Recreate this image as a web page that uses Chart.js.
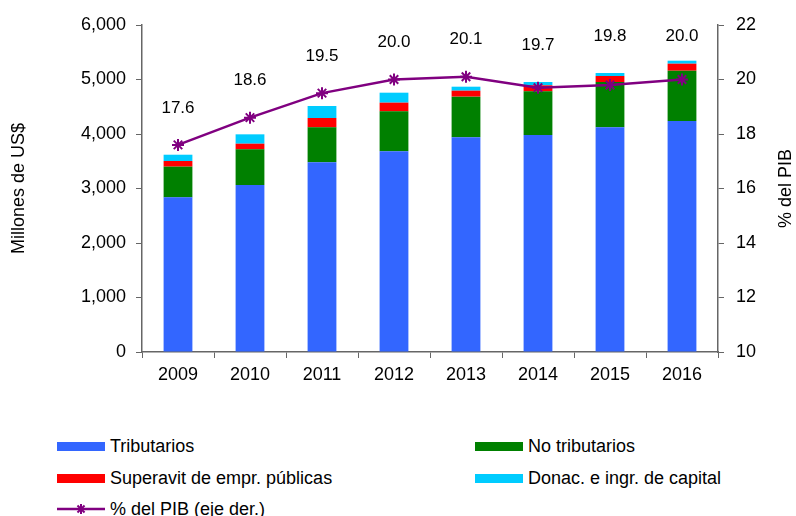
<!DOCTYPE html>
<html>
<head>
<meta charset="utf-8">
<script src="https://cdn.jsdelivr.net/npm/chart.js@4.4.0/dist/chart.umd.min.js"></script>
<style>
  body { margin: 0; background: #fff; }
  #wrap { position: relative; width: 796px; height: 516px; }
  #chartBox { position: absolute; left: 0; top: 0; width: 796px; height: 410px; }
  #legend { position: absolute; left: 57px; top: 0; width: 700px;
    font-family: "Liberation Sans", Arial, sans-serif; font-size: 18px; color: #000; }
  .item { position: absolute; display: flex; align-items: center; white-space: nowrap; height: 20px; }
  .sw { width: 48px; height: 9px; margin-right: 5px; }
</style>
</head>
<body>
<div id="wrap">
  <div id="chartBox"><canvas id="chartIngresos"></canvas></div>
  <div id="legend"></div>
</div>
<script>
const years = ['2009', '2010', '2011', '2012', '2013', '2014', '2015', '2016'];
const tributarios = [2838, 3064, 3480, 3682, 3939, 3982, 4122, 4239];
const noTributarios = [563, 655, 642, 734, 746, 801, 832, 922];
const superavit = [104, 103, 172, 159, 110, 110, 110, 129];
const donaciones = [115, 172, 220, 183, 73, 61, 55, 55];
const pibPct = [17.6, 18.6, 19.5, 20.0, 20.1, 19.7, 19.8, 20.0];

const FONT = '"Liberation Sans", Arial, sans-serif';
const AXIS = '#666';

// etiquetas de % del PIB sobre cada punto
const pibLabels = {
  id: 'pibLabels',
  afterDatasetsDraw(chart) {
    const ctx = chart.ctx;
    const line = chart.getDatasetMeta(4).data;
    const top = chart.getDatasetMeta(3).data;
    ctx.save();
    ctx.font = '17px ' + FONT;
    ctx.fillStyle = '#000';
    ctx.textAlign = 'center';
    ctx.textBaseline = 'middle';
    line.forEach((pt, i) => {
      const y = Math.max(Math.min(pt.y, top[i].y) - 37, chart.chartArea.top + 11);
      ctx.fillText(pibPct[i].toFixed(1), pt.x, y);
    });
    ctx.restore();
  },
  afterDraw(chart) {
    // titulo del eje derecho, leido de abajo hacia arriba
    const ctx = chart.ctx;
    const a = chart.chartArea;
    ctx.save();
    ctx.translate(786, (a.top + a.bottom) / 2);
    ctx.rotate(-Math.PI / 2);
    ctx.font = '18px ' + FONT;
    ctx.fillStyle = '#000';
    ctx.textAlign = 'center';
    ctx.textBaseline = 'middle';
    ctx.fillText('% del PIB', 0, 0);
    ctx.restore();
  },
};

const tickFont = { family: FONT, size: 18 };

const config = {
  type: 'bar',
  data: {
    labels: years,
    datasets: [
      { label: 'Tributarios', data: tributarios, backgroundColor: '#3366FF', stack: 's', order: 1 },
      { label: 'No tributarios', data: noTributarios, backgroundColor: '#008000', stack: 's', order: 1 },
      { label: 'Superavit de empr. públicas', data: superavit, backgroundColor: '#FF0000', stack: 's', order: 1 },
      { label: 'Donac. e ingr. de capital', data: donaciones, backgroundColor: '#00CCFF', stack: 's', order: 1 },
      {
        type: 'line',
        label: '% del PIB (eje der.)',
        data: pibPct,
        yAxisID: 'y1',
        borderColor: '#800080',
        backgroundColor: '#800080',
        borderWidth: 2.5,
        pointStyle: 'star',
        pointRadius: 6,
        pointBorderWidth: 2,
        order: 0,
      },
    ],
  },
  options: {
    responsive: true,
    maintainAspectRatio: false,
    animation: false,
    events: [],
    layout: { autoPadding: false, padding: { top: 25 } },
    datasets: { bar: { barPercentage: 0.4, categoryPercentage: 1 } },
    plugins: { legend: { display: false }, tooltip: { enabled: false } },
    scales: {
      x: {
        stacked: true,
        grid: { offset: true, drawOnChartArea: false, tickLength: 6, color: AXIS },
        border: { color: AXIS, width: 1.5 },
        ticks: { font: tickFont, color: '#000', padding: 6 },
        afterFit: (s) => { s.height = 58; },
      },
      y: {
        stacked: true,
        min: 0,
        max: 6000,
        ticks: { stepSize: 1000, font: tickFont, color: '#000', padding: 10,
          callback: (v) => v.toLocaleString('en-US') },
        grid: { drawOnChartArea: false, tickLength: 6, color: AXIS },
        border: { color: AXIS, width: 1.5 },
        title: { display: true, text: 'Millones de US$', font: tickFont, color: '#000', padding: { top: 8 } },
        afterFit: (s) => { s.width = 142; },
      },
      y1: {
        position: 'right',
        min: 10,
        max: 22,
        ticks: { stepSize: 2, font: tickFont, color: '#000', padding: 12 },
        grid: { drawOnChartArea: false, tickLength: 6, color: AXIS },
        border: { color: AXIS, width: 1.5 },
        afterFit: (s) => { s.width = 78; },
      },
    },
  },
  plugins: [pibLabels],
};

const chart = new Chart(document.querySelector('#chartIngresos'), config);

// leyenda en dos columnas
const legendPos = [[0, 436], [418, 436], [0, 468], [418, 468], [0, 499]];
const legendBox = document.querySelector('#legend');
chart.data.datasets.forEach((ds, i) => {
  const item = document.createElement('div');
  item.className = 'item';
  item.style.left = legendPos[i][0] + 'px';
  item.style.top = legendPos[i][1] + 'px';
  let sw;
  if (ds.type === 'line') {
    sw = document.createElement('canvas');
    sw.width = 48; sw.height = 16;
    sw.style.marginRight = '5px';
    const c = sw.getContext('2d');
    c.strokeStyle = ds.borderColor;
    c.lineWidth = 2.5;
    c.beginPath(); c.moveTo(0, 8); c.lineTo(48, 8); c.stroke();
    c.lineWidth = 2;
    for (let k = 0; k < 4; k++) {
      const a = k * Math.PI / 4;
      c.beginPath();
      c.moveTo(24 - 5 * Math.cos(a), 8 - 5 * Math.sin(a));
      c.lineTo(24 + 5 * Math.cos(a), 8 + 5 * Math.sin(a));
      c.stroke();
    }
  } else {
    sw = document.createElement('div');
    sw.className = 'sw';
    sw.style.background = ds.backgroundColor;
  }
  const txt = document.createElement('span');
  txt.textContent = ds.label;
  item.appendChild(sw);
  item.appendChild(txt);
  legendBox.appendChild(item);
});
</script>
</body>
</html>
